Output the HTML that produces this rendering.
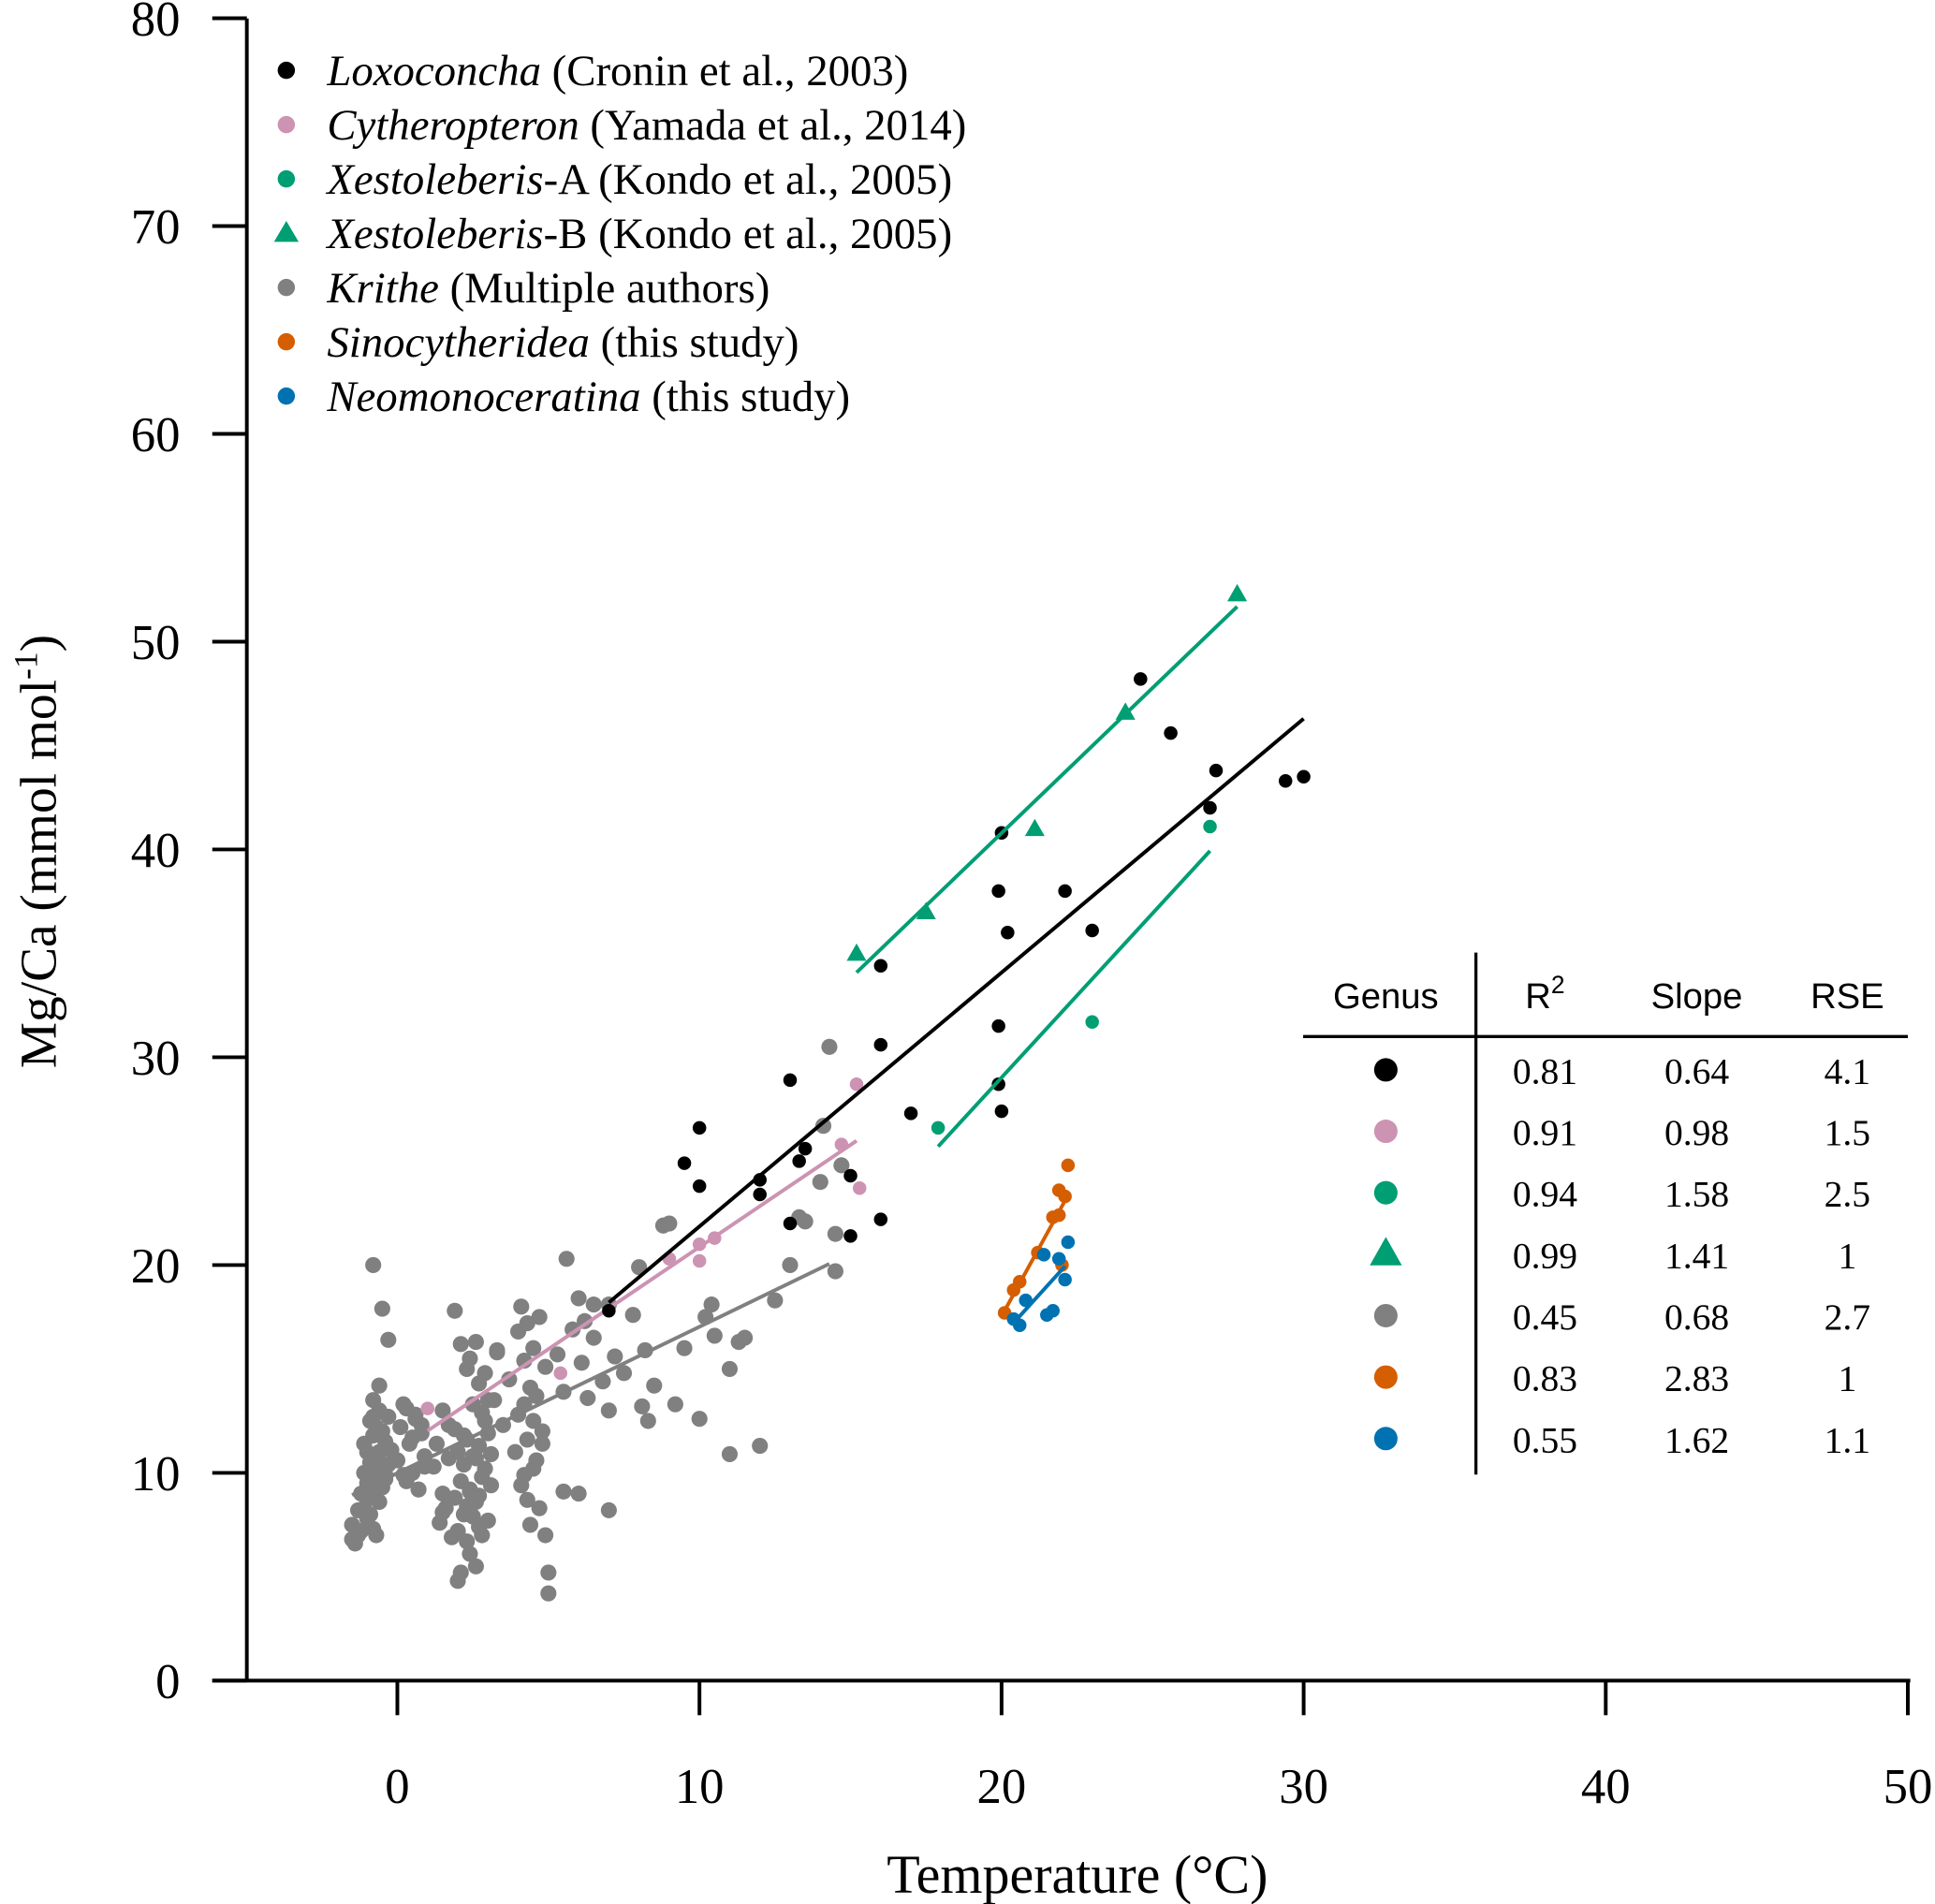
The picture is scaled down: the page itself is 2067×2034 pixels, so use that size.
<!DOCTYPE html>
<html><head><meta charset="utf-8">
<style>
html,body{margin:0;padding:0;background:#fff;}
svg{display:block;font-family:"Liberation Serif",serif;}
</style></head>
<body>
<svg id="chart" width="2067" height="2034" viewBox="0 0 1568 1543" xmlns="http://www.w3.org/2000/svg">
<g id="axes"></g>
<g id="marks"></g>
<g id="legend"></g>
<g id="table"></g>
</svg>
<script>
const xTicks=[0,10,20,30,40,50];
const yTicks=[0,10,20,30,40,50,60,70,80];
const loxoT=[7,9.5,10,10,12,12,13,13,13.3,13.5,15,15,16,16,16,17,19.9,19.9,19.9,20,20,20.2,22.1,23,24.6,25.6,26.9,27.1,29.4,30];
const loxoM=[17.8,24.9,26.6,23.8,24.1,23.4,28.9,22,25,25.6,24.3,21.4,34.4,30.6,22.2,27.3,38,31.5,28.7,27.4,40.8,36,38,36.1,48.2,45.6,42,43.8,43.3,43.5];
const cythT=[1,5.4,9,10,10,10.5,14.7,15.2,15.3];
const cythM=[13.1,14.8,20.3,21,20.2,21.3,25.8,28.7,23.7];
const xaT=[17.9,23,26.9];
const xaM=[26.6,31.7,41.1];
const xbT=[15.2,17.5,21.1,24.1,27.8];
const xbM=[35,37,41,46.6,52.3];
const sinoT=[20.1,20.4,20.6,21.2,21.7,21.9,21.9,22,22.1,22.2];
const sinoM=[17.7,18.8,19.2,20.6,22.3,22.4,23.6,20,23.3,24.8];
const neoT=[20.4,20.6,20.8,21.4,21.5,21.7,21.9,22.1,22.2];
const neoM=[17.4,17.1,18.3,20.5,17.6,17.8,20.3,19.3,21.1];
const kriT=[-1.5,-1.5,-1.4,-1.3,-1.3,-1.2,-1.2,-1.1,-1.1,-1,-1,-1,-0.9,-0.9,-0.9,-0.8,-0.8,-0.8,-0.8,-0.7,-0.7,-0.7,-0.7,-0.6,-0.6,-0.6,-0.5,-0.5,-0.5,-0.4,-0.4,-0.3,-0.3,-0.2,-0.8,-0.5,-0.3,-0.6,
0,0.1,0.2,0.3,0.4,0.5,0.6,0.7,0.8,0.9,0.2,0.5,0.8,0.3,0.6,0.9,
1.2,1.3,1.4,1.5,1.5,1.6,1.7,1.8,1.9,1.9,2,2,2.1,2.1,2.2,2.2,2.3,2.3,2.4,2.4,2.5,2.5,2.6,2.6,2.7,2.7,2.8,2.8,2.9,2.9,3,3,3.1,3.2,3.3,1.9,2.1,2.3,2.5,2.7,2.9,2,2.4,2.6,2.8,1.5,1.7,2.2,2.4,2.6,3.1,
3.5,3.7,3.9,4,4,4.1,4.1,4.2,4.2,4.3,4.3,4.4,4.4,4.5,4.5,4.6,4.6,4.7,4.7,4.8,4.9,5,5,4.2,4.3,4.5,4.8,4.9,
5.3,5.5,5.6,5.8,6,6.1,6.2,6.3,6.5,6.8,7,7,7.2,7.5,7.8,8,8.1,8.2,8.3,8.5,8.8,9,9.2,9.5,10,10.2,10.4,10.5,11,11,11.3,11.5,12,12.5,13,13.3,13.5,14,14.1,14.3,14.5,14.5,14.7,6.5,7,5.5,6,
-1.1,-0.9,-0.6,-0.4,-0.8,-0.7,2.7,3,3.3,2.3];
const kriM=[6.8,7.5,6.6,8.2,7,9,7.2,10,8.3,11,7.8,9.5,12.5,10.5,8,13.5,11.8,9.8,7.3,12.2,10.8,9.2,7,13,11,8.6,12,10.2,9.3,11.5,9.7,12.7,10.4,11.1,20,17.9,16.4,14.2,
10.6,12.2,9.9,13.1,11.4,10,12.8,9.2,11.9,10.8,13.3,11.7,12.3,9.6,12.6,10.3,
10.3,11.4,7.6,9,13,8.3,10.7,6.9,12.1,8.8,11,7.2,9.6,5.2,10.4,8,11.6,6.7,9.2,15.5,7.9,10.8,16.3,8.6,11.3,7.4,12.9,9.8,14.8,10.2,7.7,11.9,9.4,13.5,15.9,17.8,16.2,15,13.3,14.3,12.5,4.8,6.1,5.5,7,8.1,12.3,11.8,9.1,10.7,
10.9,12.3,14.5,11,16.8,12.8,18,9.4,15.4,13.3,17.2,11.6,14.1,7.5,16,12.5,10.6,13.7,8.3,17.5,12,15.1,4.2,5.2,9.9,8.7,10.2,11.4,7,
15.7,13.9,20.3,16.9,18.4,15.3,17.3,13.6,16.5,14.4,18.1,13,15.6,14.8,17.6,19.9,13.2,15.9,12.5,14.2,21.9,22,13.3,16,12.6,17.5,18.1,16.6,15,10.9,16.3,16.5,11.3,18.3,20,22.3,22.1,24,26.7,30.5,19.7,21.5,24.8,18.1,8.2,9.1,9,11.4,
8.8,10.6,9.9,12.7,10.1,8.9,13.5,15.8,8.4,6.5];
function sx(t){return 322+t*24.48;}
function sy(m){return 1362-m*16.84;}
const NS="http://www.w3.org/2000/svg";
function mk(tag,attrs,parent){const e=document.createElementNS(NS,tag);for(const k in attrs)e.setAttribute(k,attrs[k]);parent.appendChild(e);return e;}
const axes=document.getElementById('axes'),marks=document.getElementById('marks'),legend=document.getElementById('legend'),table=document.getElementById('table');
let l=mk('line',{x1:200,y1:15,x2:200,y2:1362,stroke:'#000','stroke-width':3},axes);


l=mk('line',{x1:172,y1:1362,x2:1548,y2:1362,stroke:'#000','stroke-width':3},axes);


yTicks.forEach(v=>{
  const t=mk('line',{x1:172,y1:sy(v),x2:200,y2:sy(v),stroke:'#000','stroke-width':3},axes);
  
  
  const tx=mk('text',{x:146,y:sy(v)+14,'text-anchor':'end','font-size':40},axes);
  tx.textContent=v;
  
  
});
xTicks.forEach(v=>{
  const t=mk('line',{x1:sx(v),y1:1362,x2:sx(v),y2:1390,stroke:'#000','stroke-width':3},axes);
  
  
  const tx=mk('text',{x:sx(v),y:1461,'text-anchor':'middle','font-size':40},axes);
  tx.textContent=v;
  
  
});
let xl=mk('text',{x:873,y:1534,'text-anchor':'middle','font-size':44},axes);
xl.textContent='Temperature (°C)';


let yl=mk('text',{x:0,y:0,'text-anchor':'middle','font-size':42,transform:'translate(45,690) rotate(-90)'},axes);
yl.innerHTML='Mg/Ca (mmol mol<tspan dy="-15" font-size="27">-1</tspan><tspan dy="15">)</tspan>';


const C={lox:'#000',cyt:'#cc93b3',xes:'#009e73',kri:'#808080',sino:'#d55e00',neo:'#0072b2'};
function fitLine(T,M,t0,t1,col,name){
  const n=T.length;let mt=0,mm=0;for(let i=0;i<n;i++){mt+=T[i];mm+=M[i];}mt/=n;mm/=n;
  let sxy=0,sxx=0;for(let i=0;i<n;i++){sxy+=(T[i]-mt)*(M[i]-mm);sxx+=(T[i]-mt)**2;}
  const b=sxy/sxx,a=mm-b*mt;
  const e=mk('line',{x1:sx(t0),y1:sy(a+b*t0),x2:sx(t1),y2:sy(a+b*t1),stroke:col,'stroke-width':3},marks);
  
  
}
function dots(T,M,col,name,r){
  for(let i=0;i<T.length;i++){
    const c=mk('circle',{cx:sx(T[i]),cy:sy(M[i]),r:r||6,fill:col},marks);
    
    
  }
}
function tris(T,M,col,name){
  for(let i=0;i<T.length;i++){
    const x=sx(T[i]),y=sy(M[i]);
    const p=mk('polygon',{points:`${x},${y-8} ${x-8},${y+6} ${x+8},${y+6}`,fill:col},marks);
    
    
  }
}
dots(kriT,kriM,C.kri,'krithe-point',6.5);
fitLine(kriT,kriM,-1.5,14.3,C.kri,'krithe-fit-line');
dots(cythT,cythM,C.cyt,'cytheropteron-point',5.5);
fitLine(cythT,cythM,1,15.2,C.cyt,'cytheropteron-fit-line');
dots(loxoT,loxoM,C.lox,'loxoconcha-point',5.5);
fitLine(loxoT,loxoM,7,30,C.lox,'loxoconcha-fit-line');
dots(xaT,xaM,C.xes,'xestoleberis-a-point',5.5);
fitLine(xaT,xaM,17.9,26.9,C.xes,'xestoleberis-a-fit-line');
tris(xbT,xbM,C.xes,'xestoleberis-b-point');
fitLine(xbT,xbM,15.2,27.8,C.xes,'xestoleberis-b-fit-line');
dots(sinoT,sinoM,C.sino,'sinocytheridea-point',5.5);
fitLine(sinoT,sinoM,20.1,22.2,C.sino,'sinocytheridea-fit-line');
dots(neoT,neoM,C.neo,'neomonoceratina-point',5.5);
fitLine(neoT,neoM,20.5,22.1,C.neo,'neomonoceratina-fit-line');
const legItems=[
 ['Loxoconcha',' (Cronin et al., 2003)',C.lox,'c'],
 ['Cytheropteron',' (Yamada et al., 2014)',C.cyt,'c'],
 ['Xestoleberis','-A (Kondo et al., 2005)',C.xes,'c'],
 ['Xestoleberis','-B (Kondo et al., 2005)',C.xes,'t'],
 ['Krithe',' (Multiple authors)',C.kri,'c'],
 ['Sinocytheridea',' (this study)',C.sino,'c'],
 ['Neomonoceratina',' (this study)',C.neo,'c']];
legItems.forEach((it,i)=>{
  const y=57+i*44;
  const g=mk('g',{},legend);
  
  
  if(it[3]==='c')mk('circle',{cx:232,cy:y,r:7,fill:it[2]},g);
  else mk('polygon',{points:`232,${y-10} 222,${y+7} 242,${y+7}`,fill:it[2]},g);
  const t=mk('text',{x:265,y:y+12,'font-size':35.5},g);
  t.innerHTML='<tspan font-style="italic">'+it[0]+'</tspan>'+it[1];
});
const tR2=['0.81','0.91','0.94','0.99','0.45','0.83','0.55'];
const tSlope=['0.64','0.98','1.58','1.41','0.68','2.83','1.62'];
const tRSE=['4.1','1.5','2.5','1','2.7','1','1.1'];
const tCols=[C.lox,C.cyt,C.xes,C.xes,C.kri,C.sino,C.neo];
l=mk('line',{x1:1196,y1:772,x2:1196,y2:1195,stroke:'#000','stroke-width':2.5},table);


l=mk('line',{x1:1056,y1:840,x2:1546,y2:840,stroke:'#000','stroke-width':2.5},table);


[['Genus',1123],['R<tspan dy="-12" font-size="20">2</tspan>',1252],['Slope',1375],['RSE',1497]].forEach(h=>{
  const t=mk('text',{x:h[1],y:817,'text-anchor':'middle','font-size':29,'font-family':'Liberation Sans, sans-serif'},table);
  t.innerHTML=h[0];
  
  
});
tR2.forEach((v,i)=>{
  const y=867+i*49.8;
  const g=mk('g',{},table);
  
  
  if(i===3)mk('polygon',{points:`1123,${y-14} 1110,${y+9} 1136,${y+9}`,fill:tCols[i]},g);
  else mk('circle',{cx:1123,cy:y,r:9.5,fill:tCols[i]},g);
  [[v,1252],[tSlope[i],1375],[tRSE[i],1497]].forEach(c=>{
    const t=mk('text',{x:c[1],y:y+11,'text-anchor':'middle','font-size':30},g);
    t.textContent=c[0];
  });
});
</script>
</body></html>
